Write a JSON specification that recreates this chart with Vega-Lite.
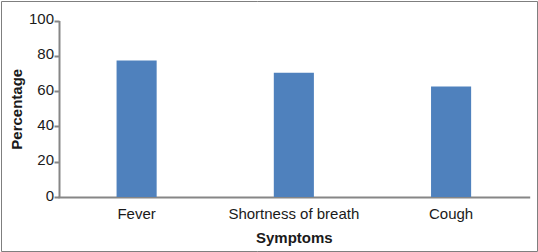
{
  "$schema": "https://vega.github.io/schema/vega-lite/v6.json",
  "width": 536,
  "height": 250,
  "padding": 1,
  "autosize": "none",
  "background": "white",
  "config": {
    "view": {"stroke": "#7f7f7f", "strokeWidth": 1},
    "font": "Liberation Sans"
  },
  "data": {
    "values": [
      {"symptom": "Fever", "pct": 77.3},
      {"symptom": "Shortness of breath", "pct": 70.4},
      {"symptom": "Cough", "pct": 62.6}
    ]
  },
  "mark": {"type": "bar", "color": "#4F81BD"},
  "encoding": {
    "x": {
      "field": "symptom",
      "type": "nominal",
      "sort": null,
      "scale": {"range": [57, 528.7], "paddingInner": 0.745, "paddingOuter": 0.3725},
      "axis": {
        "orient": "bottom",
        "offset": -54,
        "domainColor": "#868686",
        "domainWidth": 2,
        "ticks": false,
        "labelAngle": 0,
        "labelPadding": 9,
        "labelFontSize": 15,
        "labelColor": "#1a1a1a",
        "title": "Symptoms",
        "titleFontSize": 15,
        "titleFontWeight": "bold",
        "titleColor": "#1a1a1a",
        "titlePadding": 9,
        "grid": false
      }
    },
    "y": {
      "field": "pct",
      "type": "quantitative",
      "scale": {"domain": [0, 100], "range": [196, 19.5], "nice": false},
      "axis": {
        "orient": "left",
        "offset": -58,
        "values": [0, 20, 40, 60, 80, 100],
        "domainColor": "#868686",
        "domainWidth": 2,
        "tickColor": "#868686",
        "tickSize": 5,
        "tickWidth": 2,
        "labelPadding": 0.5,
        "labelFontSize": 15,
        "labelColor": "#1a1a1a",
        "labelOffset": -2,
        "title": "Percentage",
        "titleFontSize": 15,
        "titleFontWeight": "bold",
        "titleColor": "#1a1a1a",
        "titlePadding": 4,
        "grid": false
      }
    }
  }
}
